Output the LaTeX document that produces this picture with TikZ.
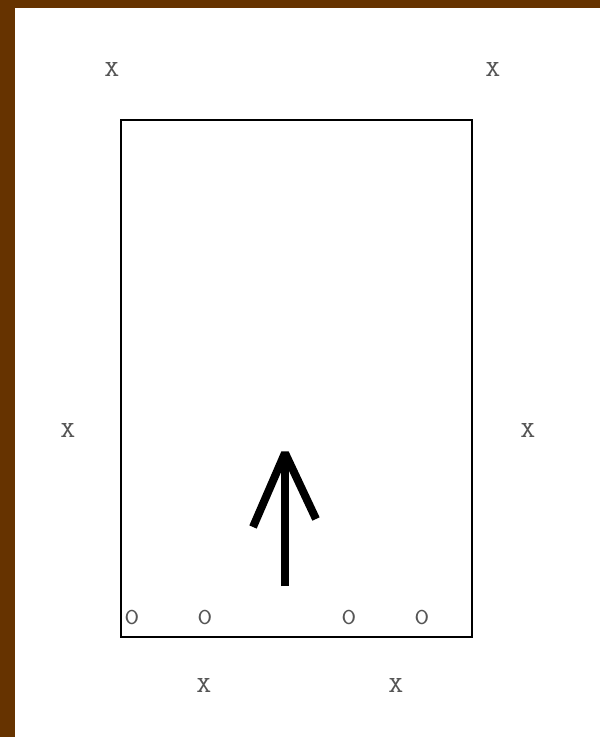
\documentclass[tikz,border=0pt]{standalone}
\usepackage{fontspec}
\newfontfamily\markfont{lmmono10-regular.otf}[FakeStretch=1.25]
\definecolor{frame}{HTML}{663300}
\definecolor{mark}{HTML}{555555}
\begin{document}
\begin{tikzpicture}[x=1bp,y=-1bp,
  lbl/.style={font=\markfont\fontsize{23}{23}\selectfont, text=mark, inner sep=0pt},
  field/.style={draw=black, line width=2bp},
  play/.style={line width=8bp, line cap=butt}]
\useasboundingbox (0,0) rectangle (600,737);
\fill[frame] (0,0) rectangle (600,8);
\fill[frame] (0,0) rectangle (15,737);
\fill[white] (15,8) rectangle (600,737);
\draw[field] (121,120) rectangle (472,637);
\node[lbl] (x1) at (112,69) {X};
\node[lbl] (x2) at (493,69) {X};
\node[lbl] (x3) at (68,430) {X};
\node[lbl] (x4) at (528,430) {X};
\node[lbl] (x5) at (204,685) {X};
\node[lbl] (x6) at (396,685) {X};
\node[lbl] (o1) at (132,617) {0};
\node[lbl] (o2) at (205,617) {0};
\node[lbl] (o3) at (349,617) {0};
\node[lbl] (o4) at (422,617) {0};
\coordinate (tail) at (285,586);
\coordinate (tip) at (285,453);
\coordinate (la) at (253,527);
\coordinate (ra) at (316,519);
\draw[play] (tail) -- (tip);
\draw[play, line join=bevel] (la) -- (tip) -- (ra);
\end{tikzpicture}
\end{document}
